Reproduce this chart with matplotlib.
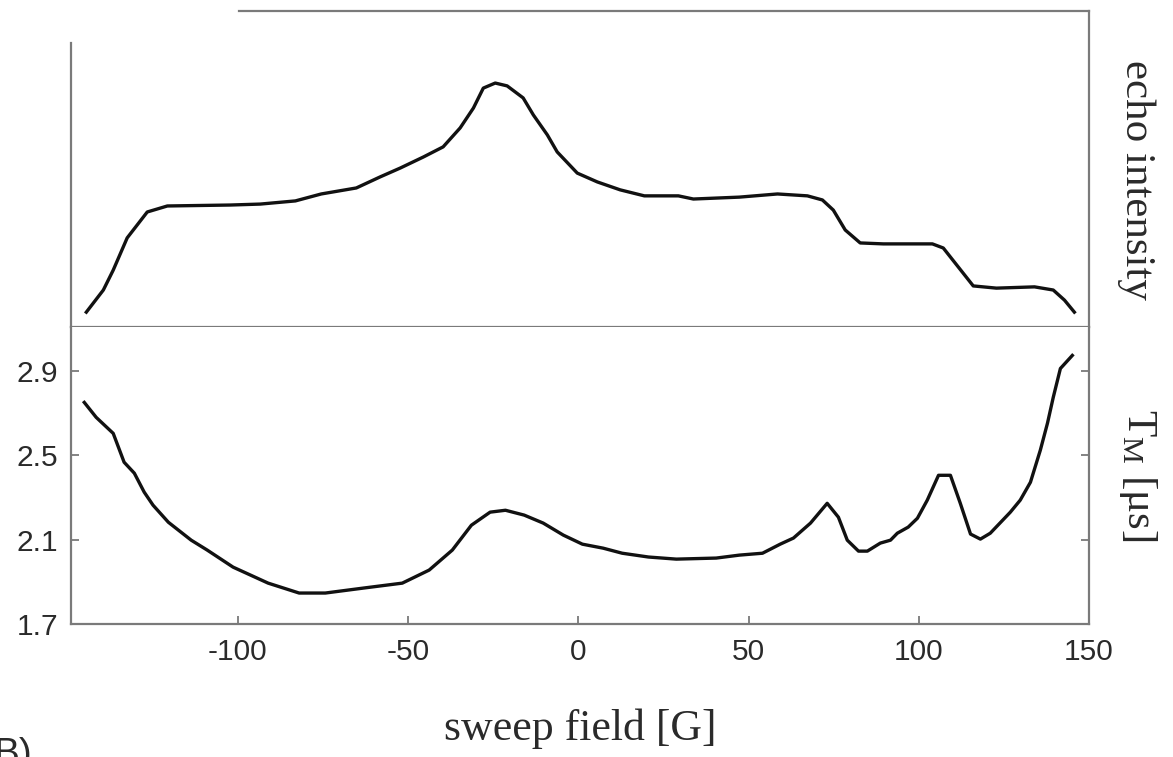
import numpy as np
import matplotlib
matplotlib.use("Agg")
import matplotlib.pyplot as plt

plt.rcParams['mathtext.fontset'] = 'custom'
plt.rcParams['mathtext.rm'] = 'Liberation Serif'
plt.rcParams['mathtext.it'] = 'Liberation Serif:italic'

# echo-detected field sweep (arbitrary units)
field_echo = [-144.5, -139.5, -136.6, -132.5, -126.6, -120.7, -102.2, -93.4, -83.1,
              -75.5, -65.2, -58.2, -52.3, -45.5, -39.7, -34.7, -30.8, -27.9, -24.4,
              -20.9, -16.2, -13.2, -9.1, -6.2, -0.3, 5.6, 12.3, 19.4, 29.4, 33.8,
              47.3, 58.5, 67.3, 71.7, 74.9, 78.4, 82.8, 89.6, 104.0, 107.2, 111.6,
              116.0, 122.8, 134.0, 139.5, 142.8, 145.7]
echo = [0.047, 0.117, 0.180, 0.282, 0.364, 0.383, 0.386, 0.389, 0.399,
        0.421, 0.440, 0.475, 0.503, 0.538, 0.570, 0.630, 0.693, 0.756, 0.772,
        0.763, 0.725, 0.671, 0.608, 0.554, 0.487, 0.459, 0.434, 0.415, 0.415, 0.405,
        0.411, 0.421, 0.415, 0.402, 0.370, 0.307, 0.266, 0.263, 0.263, 0.250, 0.190,
        0.130, 0.123, 0.127, 0.117, 0.085, 0.047]

# phase memory time across the sweep
field_tm = [-145.1, -141.6, -136.6, -133.4, -130.4, -127.5, -124.9, -120.4, -113.7,
            -109.0, -101.4, -91.1, -82.0, -74.3, -62.9, -51.7, -43.8, -37.0, -31.4,
            -25.9, -21.4, -15.9, -10.3, -4.4, 1.2, 7.3, 12.9, 20.6, 28.8, 40.5,
            47.3, 54.1, 59.3, 63.2, 68.2, 73.1, 76.4, 79.0, 82.3, 84.9, 88.7, 91.7,
            93.7, 96.9, 99.6, 102.5, 105.8, 109.3, 112.2, 115.2, 118.1, 121.0,
            126.9, 129.8, 132.8, 135.7, 137.8, 139.5, 141.6, 145.1]
tm = [2.752, 2.681, 2.605, 2.468, 2.416, 2.326, 2.264, 2.183, 2.098,
      2.051, 1.970, 1.894, 1.847, 1.847, 1.871, 1.894, 1.956, 2.051, 2.169,
      2.231, 2.240, 2.217, 2.179, 2.122, 2.079, 2.060, 2.036, 2.018, 2.008, 2.013,
      2.027, 2.036, 2.079, 2.108, 2.179, 2.273, 2.207, 2.098, 2.046, 2.046, 2.084, 2.098,
      2.131, 2.160, 2.202, 2.288, 2.406, 2.406, 2.273, 2.127, 2.103, 2.131,
      2.231, 2.288, 2.373, 2.525, 2.653, 2.776, 2.913, 2.975]

x_ticks = [-100, -50, 0, 50, 100, 150]
y_ticks = [1.7, 2.1, 2.5, 2.9]

frame_col = '#7a7a7a'
text_col = '#2a2a2a'
line_col = '#111111'
serif = 'Liberation Serif'
sans = 'Liberation Sans'

W, H = 1173, 757
fig = plt.figure(figsize=(W / 100, H / 100), dpi=100)

x0, x1 = 71 / W, 1089 / W
y_sep = 1 - 327 / H
ax_top = fig.add_axes([x0, y_sep, x1 - x0, (327 - 11) / H])
ax_bot = fig.add_axes([x0, 1 - 624 / H, x1 - x0, (624 - 327) / H])

# upper panel: echo intensity
ax_top.plot(field_echo, echo, color=line_col, lw=2.4, solid_joinstyle='round')
ax_top.set_xlim(-149, 150)
ax_top.set_ylim(0, 1)
ax_top.set_xticks([])
ax_top.set_yticks([])
for side in ['top', 'left']:
    ax_top.spines[side].set_visible(False)
for side in ['bottom', 'right']:
    ax_top.spines[side].set_color(frame_col)
    ax_top.spines[side].set_linewidth(1.6)
# partial frame lines on the upper panel
ax_top.plot([0, 0], [0, 0.899], transform=ax_top.transAxes, color=frame_col,
            lw=1.6, clip_on=False)
ax_top.plot([0.165, 1], [1, 1], transform=ax_top.transAxes, color=frame_col,
            lw=1.6, clip_on=False)
ax_top.text(1.046, 0.465, 'echo intensity', transform=ax_top.transAxes,
            rotation=-90, ha='center', va='center', fontsize=31,
            family=serif, color=text_col)

# lower panel: T_M
ax_bot.plot(field_tm, tm, color=line_col, lw=2.4, solid_joinstyle='round')
ax_bot.set_xlim(-149, 150)
ax_bot.set_ylim(1.7, 3.11)
ax_bot.spines['top'].set_visible(False)
for side in ['bottom', 'left', 'right']:
    ax_bot.spines[side].set_color(frame_col)
    ax_bot.spines[side].set_linewidth(1.6)
ax_bot.set_xticks(x_ticks)
ax_bot.set_xticklabels([str(t) for t in x_ticks])
ax_bot.set_yticks(y_ticks)
ax_bot.set_yticklabels(['%.1f' % t for t in y_ticks])
ax_bot.tick_params(axis='both', direction='in', length=6, width=1.3,
                   color=frame_col, labelsize=21.5, labelcolor=text_col)
ax_bot.tick_params(axis='x', pad=10)
ax_bot.tick_params(axis='y', pad=9, right=True)
for lab in ax_bot.get_xticklabels() + ax_bot.get_yticklabels():
    lab.set_family(sans)
ax_bot.text(1.048, 0.5, r'T$_{\mathrm{M}}$ [μs]', transform=ax_bot.transAxes,
            rotation=-90, ha='center', va='center', fontsize=31,
            family=serif, color=text_col)

fig.text(580 / W, 1 - 740 / H, 'sweep field [G]', ha='center', va='baseline',
         fontsize=31.5, family=serif, color=text_col)
# panel letter, partly below the lower edge
fig.text(-6 / W, 1 - 765 / H, 'B)', ha='left', va='baseline',
         fontsize=28, family=sans, color=text_col)

fig.savefig('out.png', dpi=100)
